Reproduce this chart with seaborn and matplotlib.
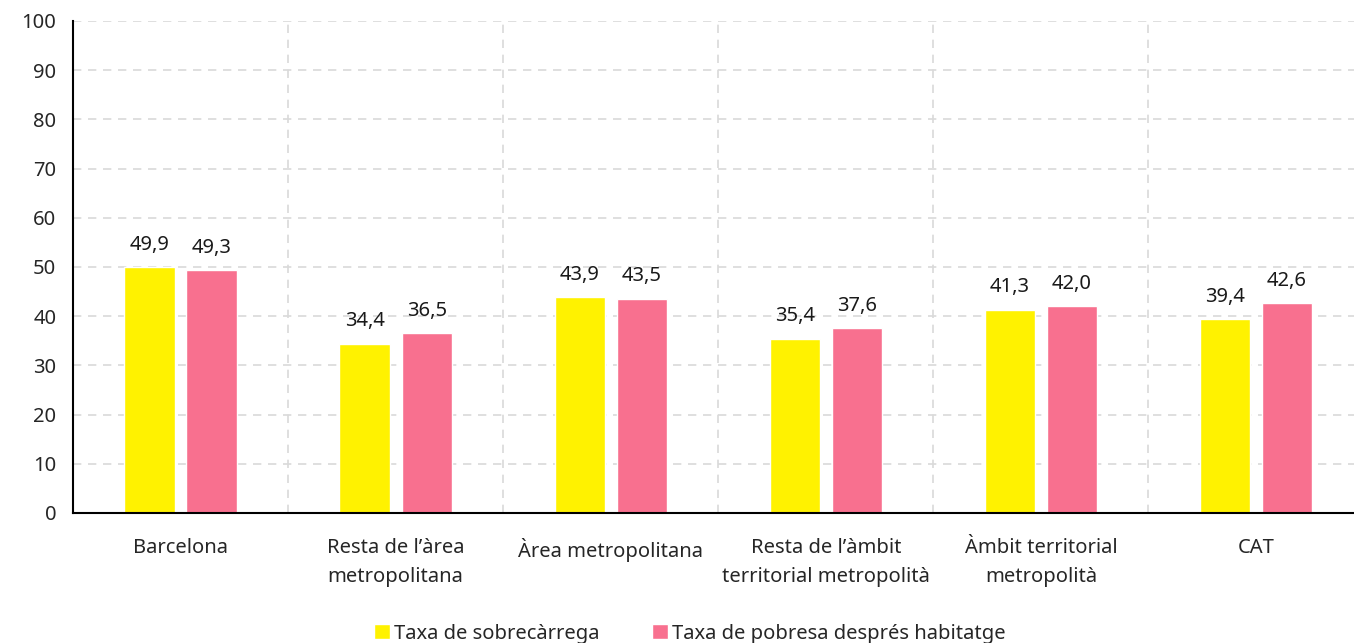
import pandas as pd
import seaborn as sns
import matplotlib.pyplot as plt
from matplotlib.ticker import FixedLocator

# data
categories = ["Barcelona", "Resta de l’àrea\nmetropolitana", "Àrea metropolitana",
              "Resta de l’àmbit\nterritorial metropolità", "Àmbit territorial\nmetropolità", "CAT"]
sobrecarrega = [49.9, 34.4, 43.9, 35.4, 41.3, 39.4]
pobresa = [49.3, 36.5, 43.5, 37.6, 42.0, 42.6]
series_names = ["Taxa de sobrecàrrega", "Taxa de pobresa després habitatge"]
colors = ["#FFF200", "#F8708F"]

df = pd.DataFrame({
    "cat": categories * 2,
    "serie": [series_names[0]] * 6 + [series_names[1]] * 6,
    "valor": sobrecarrega + pobresa,
})

sns.set_style("white")
plt.rcParams["font.family"] = ["Noto Sans", "DejaVu Sans"]

fig = plt.figure(figsize=(13.54, 6.43), dpi=100)
ax = fig.add_axes([73 / 1354, 1 - 513 / 643, (1363.5 - 73) / 1354, (513 - 21) / 643])

sns.barplot(data=df, x="cat", y="valor", hue="serie", palette=colors,
            width=0.577, gap=0.19, ax=ax, legend=True, saturation=1)

# value labels with decimal comma
for cont in ax.containers:
    ax.bar_label(cont, labels=[f"{v:.1f}".replace(".", ",") for v in cont.datavalues],
                 padding=9, fontsize=14.5, color="#1a1a1a")

ax.set_xlim(-0.5, 5.5)
ax.set_ylim(0, 100)
ax.set_yticks(range(0, 101, 10))
ax.xaxis.set_minor_locator(FixedLocator([i - 0.5 for i in range(7)]))
ax.tick_params(axis="x", which="major", length=0, pad=18, labelsize=14.5)
ax.tick_params(axis="x", which="minor", length=6, width=1.5, direction="out", color="black")
ax.tick_params(axis="y", length=6, width=1.5, direction="out", labelsize=14.5, pad=6)
for lab in ax.get_xticklabels():
    lab.set_linespacing(1.6)
ax.grid(True, axis="y", linestyle=(0, (5, 4)), color="#d9d9d9", linewidth=1.2)
ax.grid(True, axis="x", which="minor", linestyle=(0, (5, 4)), color="#d9d9d9", linewidth=1.2)
ax.set_axisbelow(True)

for s in ["top", "right"]:
    ax.spines[s].set_visible(False)
ax.spines["left"].set_color("black")
ax.spines["left"].set_linewidth(1.5)
ax.spines["bottom"].set_color("black")
ax.spines["bottom"].set_linewidth(1.5)

ax.set_xlabel("")
ax.set_ylabel("")

ax.legend(loc="lower center", bbox_to_anchor=((690 - 73) / (1363.5 - 73), -0.29),
          ncol=2, frameon=False, fontsize=14.5, handlelength=0.8, handleheight=0.8,
          handletextpad=0.2, columnspacing=2.6, borderpad=0.1)

plt.savefig("out.png", dpi=100)
